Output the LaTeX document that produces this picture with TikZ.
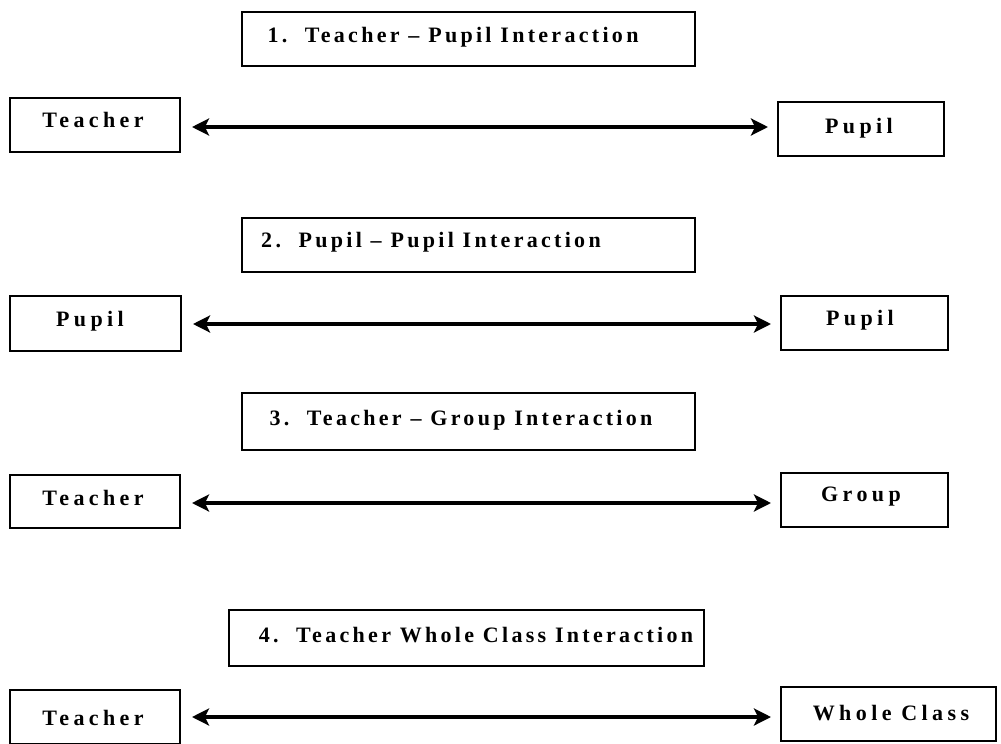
\documentclass[tikz,border=0pt]{standalone}
\usepackage{fontspec}
\setmainfont{Liberation Serif}
\newfontfamily\titlefont[LetterSpace=15]{Liberation Serif}
\newfontfamily\labelfont[LetterSpace=20]{Liberation Serif}
\usetikzlibrary{arrows.meta}
\begin{document}
\begin{tikzpicture}[x=1pt,y=-1pt,
  box/.style={draw, line width=2pt, minimum width=#1, inner sep=0pt, minimum height=54pt},
  ttl/.style={font=\titlefont\bfseries\fontsize{22}{24}\selectfont, inner sep=0pt},
  lbl/.style={font=\labelfont\bfseries\fontsize{22}{24}\selectfont, inner sep=0pt},
  tip/.style={Stealth[length=17pt,width=17pt,inset=4pt]},
  link/.style={line width=3.5pt, {Stealth[length=17pt,width=17pt,inset=4pt]}-{Stealth[length=17pt,width=17pt,inset=4pt]}, shorten <=11pt, shorten >=9pt}]
\useasboundingbox (0,0) rectangle (1001,744);
% row 1
\node[box=453pt] (t1) at (468.5,38.5) {};
\node[ttl] (t1l) at (453,37) {1.\ \ Teacher – Pupil Interaction};
\node[box=170pt] (a1) at (95,125) {};
\node[lbl] (a1l) at (93,120) {Teacher};
\node[box=166pt] (b1) at (861,129) {};
\node[lbl] (b1l) at (859,128) {Pupil};
\draw[link] (a1.east |- 0,127) -- (b1.west |- 0,127);
% row 2
\node[box=453pt] (t2) at (468.5,244.5) {};
\node[ttl] (t2l) at (431,242) {2.\ \ Pupil – Pupil Interaction};
\node[box=171pt, minimum height=55pt] (a2) at (95.5,323.5) {};
\node[lbl] (a2l) at (90,321) {Pupil};
\node[box=167pt] (b2) at (864.5,323) {};
\node[lbl] (b2l) at (860,320) {Pupil};
\draw[link] (a2.east |- 0,324) -- (b2.west |- 0,324);
% row 3
\node[box=453pt, minimum height=57pt] (t3) at (468.5,421.5) {};
\node[ttl] (t3l) at (461,420) {3.\ \ Teacher – Group Interaction};
\node[box=170pt, minimum height=53pt] (a3) at (95,501.5) {};
\node[lbl] (a3l) at (93,498) {Teacher};
\node[box=167pt] (b3) at (864.5,500) {};
\node[lbl] (b3l) at (861,497) {Group};
\draw[link] (a3.east |- 0,503) -- (b3.west |- 0,503);
% row 4
\node[box=475pt, minimum height=56pt] (t4) at (466.5,638) {};
\node[ttl] (t4l) at (476,635) {4.\ \ Teacher Whole Class Interaction};
\node[box=170pt] (a4) at (95,717) {};
\node[lbl] (a4l) at (93,718) {Teacher};
\node[box=215pt] (b4) at (888.5,714) {};
\node[lbl] (b4l) at (891,713) {Whole Class};
\draw[link] (a4.east |- 0,717) -- (b4.west |- 0,717);
\end{tikzpicture}
\end{document}
